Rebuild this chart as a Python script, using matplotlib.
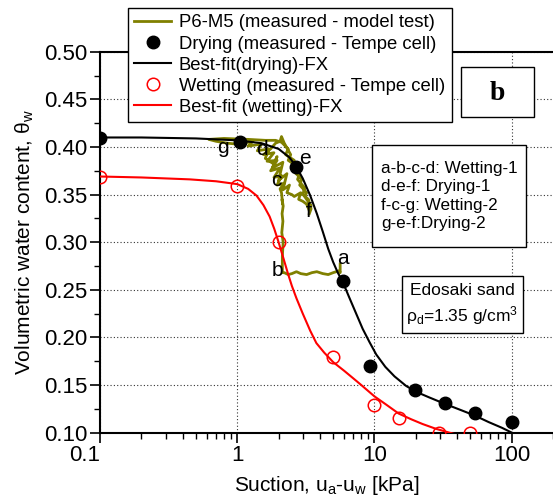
import matplotlib.pyplot as plt
from matplotlib.patches import Rectangle
from matplotlib.ticker import MultipleLocator, LogLocator, NullFormatter, FixedLocator, FixedFormatter

plt.rcParams['font.family'] = ['Liberation Sans', 'DejaVu Sans']
plt.rcParams['mathtext.fontset'] = 'custom'
plt.rcParams['mathtext.rm'] = 'Liberation Sans'
plt.rcParams['mathtext.it'] = 'Liberation Sans'

# measured points, Tempe cell
dry_x = [0.1, 1.04, 2.7, 5.88, 9.35, 19.8, 32.8, 53.6, 100]
dry_y = [0.409, 0.405, 0.379, 0.259, 0.170, 0.145, 0.131, 0.121, 0.111]
wet_x = [0.1, 1.0, 2.0, 5.0, 10, 15, 29.7, 50]
wet_y = [0.369, 0.359, 0.300, 0.179, 0.129, 0.115, 0.100, 0.100]

# best-fit curves (FX)
fit_dry_x = [0.1, 0.2, 0.5, 1.0, 1.5, 2.0, 2.4, 2.7, 3.0, 3.4, 3.8, 4.2, 4.6, 5.0, 5.4, 5.88,
             6.5, 7.3, 8.2, 9.2, 10.3, 12, 14, 17, 20, 25, 32.8, 42, 53.6, 68, 85, 100, 120]
fit_dry_y = [0.410, 0.410, 0.409, 0.407, 0.404, 0.398, 0.389, 0.379, 0.367, 0.349, 0.330, 0.311,
             0.293, 0.279, 0.268, 0.258, 0.243, 0.226, 0.209, 0.195, 0.182, 0.169, 0.159, 0.149,
             0.143, 0.137, 0.130, 0.124, 0.118, 0.111, 0.105, 0.100, 0.095]
fit_wet_x = [0.1, 0.2, 0.45, 0.7, 1.0, 1.2, 1.38, 1.55, 1.72, 1.86, 2.0, 2.17, 2.34, 2.5, 2.7,
             3.0, 3.4, 3.77, 4.3, 5.0, 6.0, 7.0, 8.0, 10, 12, 15, 18.5, 22.4, 28, 37, 45]
fit_wet_y = [0.369, 0.368, 0.366, 0.364, 0.361, 0.356, 0.349, 0.339, 0.327, 0.314, 0.300, 0.283,
             0.267, 0.254, 0.241, 0.225, 0.207, 0.194, 0.184, 0.174, 0.165, 0.157, 0.150, 0.138,
             0.130, 0.120, 0.114, 0.109, 0.104, 0.099, 0.096]

# P6-M5 model test path a-b-c-d-e-f-c-g-e-f (noisy trace)
p6_x = [5.62, 5.62, 5.55, 5.0, 4.6, 4.2, 3.8, 3.5, 3.2, 2.9, 2.7, 2.5, 2.35, 2.2, 2.13,
        2.13, 2.16, 2.11, 2.15, 2.12, 2.16, 2.12, 2.14, 2.1,
        2.05, 2.2, 1.95, 2.1, 1.85, 2.05, 1.75, 1.95, 1.65, 1.85, 1.55, 1.75, 1.9, 2.05, 2.1,
        2.2, 2.45, 2.35, 2.7, 2.6, 2.95, 2.85, 3.2, 3.1, 3.45, 3.35,
        3.2, 3.0, 2.8, 2.9, 2.6, 2.5, 2.3, 2.4, 2.15, 2.3, 2.0, 2.15, 1.8, 1.95, 1.85, 1.6, 1.7,
        1.4, 1.5, 1.2, 1.3, 1.0, 0.85, 0.7, 0.62,
        0.8, 1.2, 1.6, 1.9, 2.1, 2.35, 2.25, 2.6, 2.5, 2.85, 2.75, 3.1, 3.0, 3.3, 3.45, 3.35]
p6_y = [0.277, 0.268, 0.270, 0.268, 0.266, 0.267, 0.269, 0.268, 0.266, 0.267, 0.269, 0.267,
        0.266, 0.268, 0.268,
        0.285, 0.300, 0.310, 0.322, 0.330, 0.338, 0.345, 0.340, 0.352,
        0.356, 0.362, 0.360, 0.370, 0.368, 0.378, 0.375, 0.386, 0.385, 0.394, 0.392, 0.398,
        0.404, 0.406, 0.411,
        0.404, 0.392, 0.386, 0.380, 0.374, 0.366, 0.360, 0.352, 0.348, 0.338, 0.333,
        0.340, 0.343, 0.345, 0.352, 0.348, 0.350, 0.352, 0.360, 0.355, 0.372, 0.365, 0.384,
        0.378, 0.390, 0.382, 0.388, 0.398, 0.396, 0.403, 0.401, 0.406,
        0.403, 0.404, 0.406, 0.408,
        0.409, 0.408, 0.407, 0.407, 0.405, 0.398, 0.392, 0.386, 0.380, 0.372, 0.366, 0.357,
        0.350, 0.345, 0.335, 0.330]

pt_labels = ['a', 'b', 'c', 'd', 'e', 'f', 'g']
pt_x = [5.9, 1.97, 1.93, 1.5, 3.1, 3.33, 0.79]
pt_y = [0.283, 0.270, 0.365, 0.397, 0.388, 0.332, 0.399]

fig = plt.figure(figsize=(5.53, 5.03), dpi=100)
ax = fig.add_axes([0.181, 0.140, 0.819, 0.757])

ax.plot(p6_x, p6_y, color='#808000', lw=2.0, label='P6-M5 (measured - model test)', zorder=3)
ax.plot(dry_x, dry_y, 'o', color='black', ms=9, label='Drying (measured - Tempe cell)', zorder=5)
ax.plot(fit_dry_x, fit_dry_y, color='black', lw=1.5, label='Best-fit(drying)-FX', zorder=4)
ax.plot(wet_x, wet_y, 'o', mfc='none', mec='red', mew=1.1, ms=9,
        label='Wetting (measured - Tempe cell)', zorder=5)
ax.plot(fit_wet_x, fit_wet_y, color='red', lw=1.5, label='Best-fit (wetting)-FX', zorder=4)

for s, x, y in zip(pt_labels, pt_x, pt_y):
    ax.text(x, y, s, fontsize=15, ha='center', va='center', zorder=6)

ax.set_xscale('log')
ax.set_xlim(0.1, 200)
ax.set_ylim(0.10, 0.50)
ax.xaxis.set_major_locator(FixedLocator([0.1, 1, 10, 100]))
ax.xaxis.set_major_formatter(FixedFormatter(['0.1', '1', '10', '100']))
ax.xaxis.set_minor_locator(LogLocator(base=10, subs=range(2, 10)))
ax.xaxis.set_minor_formatter(NullFormatter())
ax.yaxis.set_major_locator(MultipleLocator(0.05))
ax.yaxis.set_minor_locator(MultipleLocator(0.025))
ax.yaxis.set_major_formatter(plt.FormatStrFormatter('%.2f'))
ax.tick_params(which='major', direction='out', length=7, width=1.2, labelsize=16, pad=2)
ax.tick_params(which='minor', direction='out', length=4, width=1.0)
ax.get_xticklabels()[0].set_ha('right')
ax.grid(True, which='major', ls=(0, (1, 2)), color='#333333', lw=0.8)
ax.set_axisbelow(True)
for sp in ax.spines.values():
    sp.set_linewidth(1.5)
ax.spines['right'].set_visible(False)

ax.set_xlabel('Suction, u$_\\mathregular{a}$-u$_\\mathregular{w}$ [kPa]', fontsize=15, labelpad=6)
ax.set_ylabel('Volumetric water content, $\\mathregular{\\theta_w}$', fontsize=15, labelpad=6)

leg = ax.legend(loc='upper left', bbox_to_anchor=(128 / 553, 1 - 8 / 503), bbox_transform=fig.transFigure,
                fontsize=13.3, frameon=True, fancybox=False, edgecolor='black', framealpha=1,
                borderaxespad=0, handlelength=2.0, labelspacing=0.22, borderpad=0.35,
                handletextpad=0.4, numpoints=1)
leg.get_frame().set_linewidth(1.0)


def box(x0, y0, x1, y1):
    # rectangle given in pixel coords of the 553x503 picture (y from top)
    fig.add_artist(Rectangle((x0 / 553, 1 - y1 / 503), (x1 - x0) / 553, (y1 - y0) / 503,
                             transform=fig.transFigure, fc='white', ec='black', lw=1.0, zorder=2))


box(461, 67, 534, 117)
fig.text(497.5 / 553, 1 - 93 / 503, 'b', fontsize=20, fontweight='bold', family='Liberation Serif',
         ha='center', va='center', zorder=3)

box(372, 145, 526, 247)
fig.text(381 / 553, 1 - 196 / 503, 'a-b-c-d: Wetting-1\nd-e-f: Drying-1\nf-c-g: Wetting-2\ng-e-f:Drying-2',
         fontsize=12.3, ha='left', va='center', linespacing=1.28, zorder=3)

box(402, 276, 523, 333)
fig.text(462.5 / 553, 1 - 305 / 503, 'Edosaki sand\n$\\mathregular{\\rho_d}$=1.35 g/cm$^\\mathregular{3}$',
         fontsize=12.5, ha='center', va='center', linespacing=1.3, zorder=3)

fig.savefig('out.png', dpi=100)
